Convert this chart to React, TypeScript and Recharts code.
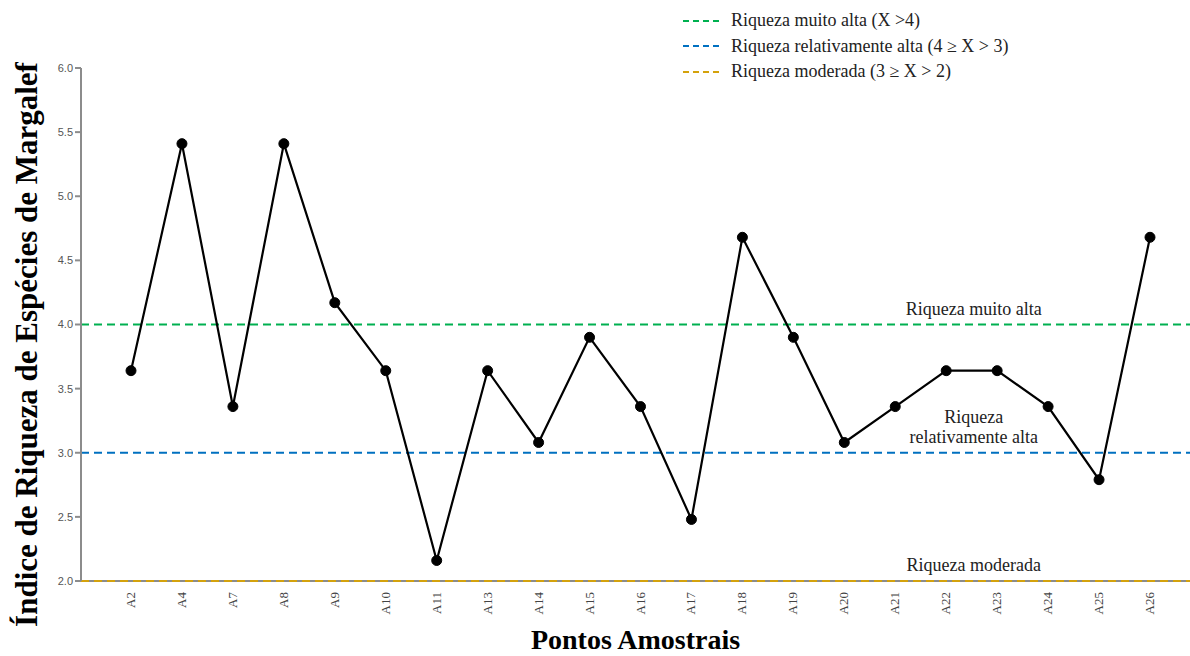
import React from "react";
import {
  LineChart,
  Line,
  XAxis,
  YAxis,
  ReferenceLine,
  Legend,
  Label,
} from "recharts";

const categories = [
  "A2", "A4", "A7", "A8", "A9", "A10", "A11", "A13", "A14", "A15", "A16",
  "A17", "A18", "A19", "A20", "A21", "A22", "A23", "A24", "A25", "A26",
];
const margalef = [
  3.64, 5.41, 3.36, 5.41, 4.17, 3.64, 2.16, 3.64, 3.08, 3.9, 3.36,
  2.48, 4.68, 3.9, 3.08, 3.36, 3.64, 3.64, 3.36, 2.79, 4.68,
];
const yTicks = [2, 2.5, 3, 3.5, 4, 4.5, 5, 5.5, 6];

const thresholdValues = [4, 3, 2];
const thresholdLegend = [
  "Riqueza muito alta (X >4)",
  "Riqueza relativamente alta (4 ≥ X > 3)",
  "Riqueza moderada (3 ≥ X > 2)",
];
const thresholdLabels = [
  ["Riqueza muito alta"],
  ["Riqueza", "relativamente alta"],
  ["Riqueza moderada"],
];

const xTitle = "Pontos Amostrais";
const yTitle = "Índice de Riqueza de Espécies de Margalef";

const COLORS = ["#00B050", "#0070C0", "#D4A20C"];
const AXIS = "#8c8c8c";
const SERIF = "Liberation Serif, serif";
const SANS = "Liberation Sans, sans-serif";

const data = categories.map((c, i) => ({ ponto: c, valor: margalef[i] }));

function XTick({ x, y, payload }: any) {
  return (
    <text
      x={x + 4}
      y={y + 3}
      transform={`rotate(-90, ${x + 4}, ${y + 3})`}
      textAnchor="end"
      fontFamily={SERIF}
      fontSize={13}
      fill="#444"
    >
      {payload.value}
    </text>
  );
}

function renderLegend() {
  return (
    <div style={{ fontFamily: SERIF, fontSize: 18, color: "#222" }}>
      {thresholdLegend.map((t, i) => (
        <div key={t} style={{ display: "flex", alignItems: "center", height: 25.5 }}>
          <svg width={36} height={4} style={{ marginRight: 12 }}>
            <line x1={0} y1={2} x2={36} y2={2} stroke={COLORS[i]} strokeWidth={2} strokeDasharray="6 4" />
          </svg>
          <span>{t}</span>
        </div>
      ))}
    </div>
  );
}

function makeRefLabel(lines: string[]) {
  return ({ viewBox }: any) => {
    const cx = viewBox.x + viewBox.width * 0.805;
    const base = viewBox.y - 10;
    return (
      <text textAnchor="middle" fontFamily={SERIF} fontSize={18} fill="#222">
        {lines.map((l, i) => (
          <tspan key={l} x={cx} y={base - (lines.length - 1 - i) * 20}>
            {l}
          </tspan>
        ))}
      </text>
    );
  };
}

export default function App() {
  return (
    <div style={{ position: "absolute", left: 0, top: 0, background: "#fff" }}>
      <LineChart
        width={1190}
        height={656}
        data={data}
        margin={{ top: 68, right: 0, bottom: 0, left: 0 }}
      >
        <XAxis
          dataKey="ponto"
          height={75}
          interval={0}
          padding={{ left: 50, right: 40 }}
          axisLine={false}
          tickLine={false}
          tick={<XTick />}
        >
          <Label
            content={({ viewBox }: any) => (
              <text
                x={viewBox.x + viewBox.width / 2}
                y={viewBox.y + viewBox.height - 7}
                textAnchor="middle"
                fontFamily={SERIF}
                fontWeight="bold"
                fontSize={28}
                fill="#000"
              >
                {xTitle}
              </text>
            )}
          />
        </XAxis>
        <YAxis
          width={81}
          domain={[2, 6]}
          ticks={yTicks}
          interval={0}
          tickFormatter={(v: number) => v.toFixed(1)}
          stroke={AXIS}
          strokeWidth={2}
          tickSize={6}
          tick={{ fontFamily: SANS, fontSize: 11, fill: "#555" }}
        >
          <Label
            content={({ viewBox }: any) => {
              const x = 37;
              const y = viewBox.y + viewBox.height / 2 + 20;
              return (
                <text
                  x={x}
                  y={y}
                  transform={`rotate(-90, ${x}, ${y})`}
                  textAnchor="middle"
                  fontFamily={SERIF}
                  fontWeight="bold"
                  fontSize={31}
                  fill="#000"
                >
                  {yTitle}
                </text>
              );
            }}
          />
        </YAxis>
        <ReferenceLine y={2} stroke={AXIS} strokeWidth={2} />
        {thresholdValues.map((v, i) => (
          <ReferenceLine
            key={v}
            y={v}
            stroke={COLORS[i]}
            strokeWidth={2}
            strokeDasharray="8 5"
            label={makeRefLabel(thresholdLabels[i])}
          />
        ))}
        <Legend
          content={renderLegend}
          layout="vertical"
          align="center"
          verticalAlign="middle"
          wrapperStyle={{ top: 8, left: 683, width: 460 }}
        />
        <Line
          type="linear"
          dataKey="valor"
          stroke="#000"
          strokeWidth={2.2}
          dot={{ r: 5, fill: "#000", stroke: "#000", strokeWidth: 1 }}
          activeDot={false}
          isAnimationActive={false}
        />
      </LineChart>
    </div>
  );
}
